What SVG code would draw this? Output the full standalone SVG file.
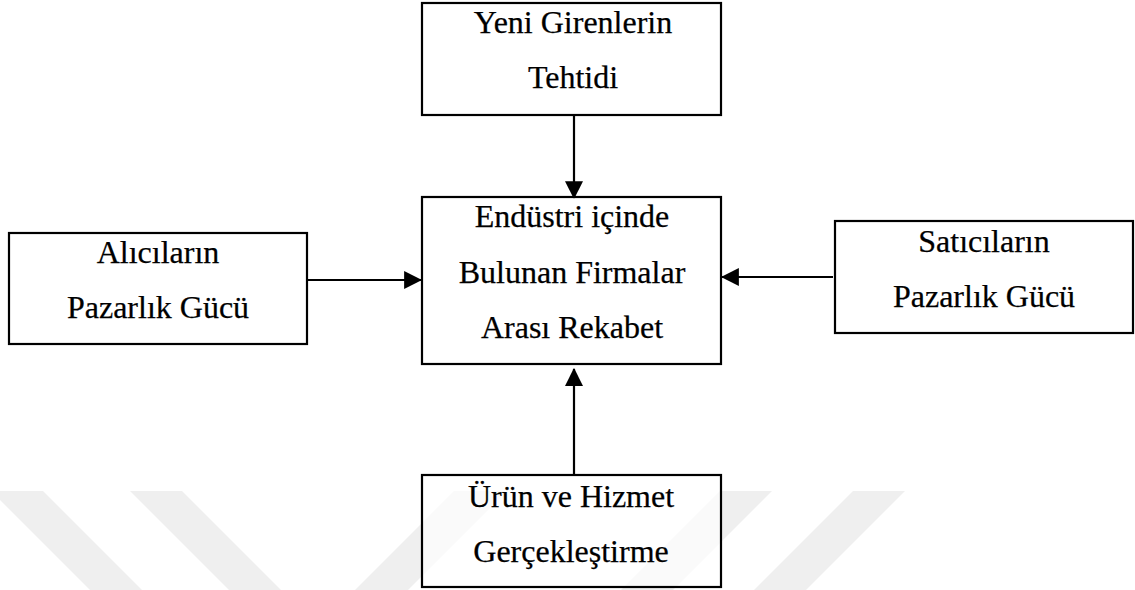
<svg xmlns="http://www.w3.org/2000/svg" width="1135" height="590" viewBox="0 0 1135 590">
<style>
.box{fill:#ffffff;fill-opacity:0.65;stroke:#000;stroke-width:2.2}
.lbl{font-family:"Liberation Serif","Times New Roman",serif;font-size:32px;fill:#000;stroke:#000;stroke-width:0.25;text-anchor:middle}
.conn{stroke:#000;stroke-width:2.2;fill:none;marker-end:url(#ah)}
.wm{fill:#efefef}
</style>
<defs>
<marker id="ah" markerUnits="userSpaceOnUse" markerWidth="18" markerHeight="18" viewBox="0 0 16 16" refX="15" refY="8" orient="auto">
<path d="M0,0 L16,8 L0,16 Z" fill="#000"/>
</marker>
</defs>
<rect width="1135" height="590" fill="#fff"/>
<g id="watermark">
<polygon class="wm" points="-9,491 43,491 142,590 90,590"/>
<polygon class="wm" points="130,491 182,491 281,590 229,590"/>
<polygon class="wm" points="454,491 507,491 408,590 355,590"/>
<polygon class="wm" points="720,491 772,491 673,590 621,590"/>
<polygon class="wm" points="853,491 905,491 806,590 754,590"/>
</g>
<g id="connectors">
<line class="conn" x1="574" y1="115" x2="574" y2="198"/>
<line class="conn" x1="307" y1="280" x2="421" y2="280"/>
<line class="conn" x1="833" y1="277" x2="722" y2="277"/>
<line class="conn" x1="574" y1="474" x2="574" y2="369"/>
</g>
<g id="node-top">
<rect class="box" x="422" y="3" width="299" height="112"/>
<text class="lbl" x="573" y="33">Yeni Girenlerin</text>
<text class="lbl" x="573" y="88">Tehtidi</text>
</g>
<g id="node-center">
<rect class="box" x="422" y="197" width="299" height="167"/>
<text class="lbl" x="572" y="227">Endüstri içinde</text>
<text class="lbl" x="572" y="283">Bulunan Firmalar</text>
<text class="lbl" x="572" y="338">Arası Rekabet</text>
</g>
<g id="node-left">
<rect class="box" x="9" y="233" width="298" height="111"/>
<text class="lbl" x="158" y="263">Alıcıların</text>
<text class="lbl" x="158" y="318">Pazarlık Gücü</text>
</g>
<g id="node-right">
<rect class="box" x="835" y="221" width="298" height="112"/>
<text class="lbl" x="984" y="252">Satıcıların</text>
<text class="lbl" x="984" y="307">Pazarlık Gücü</text>
</g>
<g id="node-bottom">
<rect class="box" x="422" y="475" width="299" height="112"/>
<text class="lbl" x="571" y="507">Ürün ve Hizmet</text>
<text class="lbl" x="571" y="562">Gerçekleştirme</text>
</g>
</svg>
